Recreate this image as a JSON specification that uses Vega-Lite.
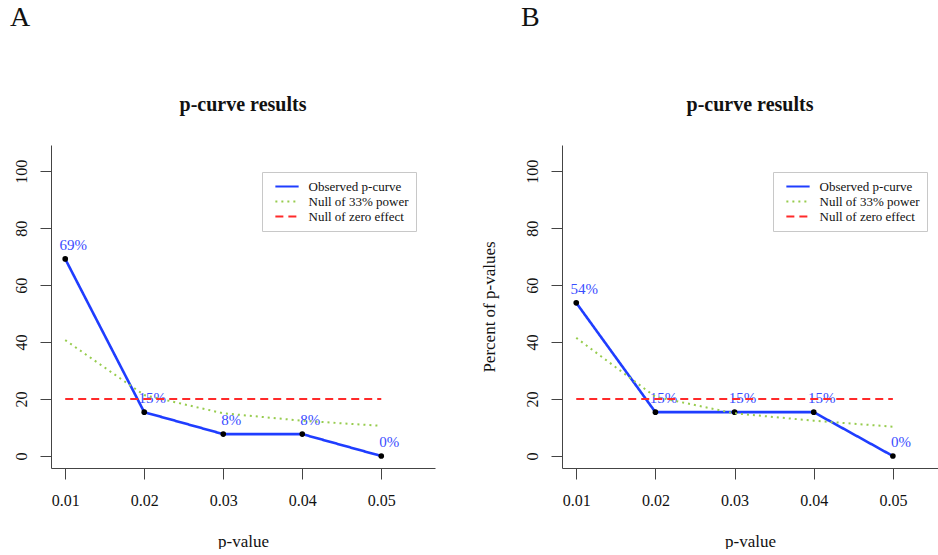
{
  "$schema": "https://vega.github.io/schema/vega-lite/v6.json",
  "padding": {"left": 10, "top": 4, "right": 0, "bottom": 0},
  "background": "white",
  "config": {
    "view": {"stroke": null},
    "font": "Liberation Serif",
    "axis": {
      "labelFont": "Liberation Serif", "titleFont": "Liberation Serif",
      "labelFontSize": 16, "titleFontSize": 17, "titleFontWeight": "normal",
      "labelColor": "#111", "titleColor": "#111",
      "domainColor": "#444", "tickColor": "#444", "domainWidth": 1, "tickWidth": 1,
      "grid": false, "tickSize": 11
    },
    "axisX": {"labelAngle": 0, "labelPadding": 13, "titlePadding": 25},
    "axisY": {"labelAngle": 270, "labelAlign": "center", "labelBaseline": "alphabetic", "labelPadding": 14, "titlePadding": 26},
    "legend": {
      "labelFont": "Liberation Serif", "labelFontSize": 13, "labelColor": "#111",
      "strokeColor": "#c8c8c8", "fillColor": "white", "padding": 7,
      "symbolType": "M-1.9,0H1.9", "symbolSize": 150, "symbolStrokeWidth": 2,
      "symbolOffset": 10.5, "labelOffset": 14, "rowPadding": 0
    },
    "title": {"font": "Liberation Serif", "fontSize": 20, "fontWeight": "bold", "color": "#111", "anchor": "middle", "frame": "group", "offset": 30, "baseline": "alphabetic"}
  },
  "datasets": {
    "pc": [
      {"panel": "A", "p": 0.01, "series": "Observed p-curve", "value": 69.2, "label": "69%"},
      {"panel": "A", "p": 0.02, "series": "Observed p-curve", "value": 15.4, "label": "15%"},
      {"panel": "A", "p": 0.03, "series": "Observed p-curve", "value": 7.7, "label": "8%"},
      {"panel": "A", "p": 0.04, "series": "Observed p-curve", "value": 7.7, "label": "8%"},
      {"panel": "A", "p": 0.05, "series": "Observed p-curve", "value": 0, "label": "0%"},
      {"panel": "A", "p": 0.01, "series": "Null of 33% power", "value": 40.7},
      {"panel": "A", "p": 0.02, "series": "Null of 33% power", "value": 21.4},
      {"panel": "A", "p": 0.03, "series": "Null of 33% power", "value": 15.0},
      {"panel": "A", "p": 0.04, "series": "Null of 33% power", "value": 12.4},
      {"panel": "A", "p": 0.05, "series": "Null of 33% power", "value": 10.6},
      {"panel": "A", "p": 0.01, "series": "Null of zero effect", "value": 20},
      {"panel": "A", "p": 0.02, "series": "Null of zero effect", "value": 20},
      {"panel": "A", "p": 0.03, "series": "Null of zero effect", "value": 20},
      {"panel": "A", "p": 0.04, "series": "Null of zero effect", "value": 20},
      {"panel": "A", "p": 0.05, "series": "Null of zero effect", "value": 20},
      {"panel": "B", "p": 0.01, "series": "Observed p-curve", "value": 53.8, "label": "54%"},
      {"panel": "B", "p": 0.02, "series": "Observed p-curve", "value": 15.4, "label": "15%"},
      {"panel": "B", "p": 0.03, "series": "Observed p-curve", "value": 15.4, "label": "15%"},
      {"panel": "B", "p": 0.04, "series": "Observed p-curve", "value": 15.4, "label": "15%"},
      {"panel": "B", "p": 0.05, "series": "Observed p-curve", "value": 0, "label": "0%"},
      {"panel": "B", "p": 0.01, "series": "Null of 33% power", "value": 41.5},
      {"panel": "B", "p": 0.02, "series": "Null of 33% power", "value": 20.8},
      {"panel": "B", "p": 0.03, "series": "Null of 33% power", "value": 15.0},
      {"panel": "B", "p": 0.04, "series": "Null of 33% power", "value": 12.4},
      {"panel": "B", "p": 0.05, "series": "Null of 33% power", "value": 10.3},
      {"panel": "B", "p": 0.01, "series": "Null of zero effect", "value": 20},
      {"panel": "B", "p": 0.02, "series": "Null of zero effect", "value": 20},
      {"panel": "B", "p": 0.03, "series": "Null of zero effect", "value": 20},
      {"panel": "B", "p": 0.04, "series": "Null of zero effect", "value": 20},
      {"panel": "B", "p": 0.05, "series": "Null of zero effect", "value": 20}
    ]
  },
  "data": {"name": "pc"},
  "bounds": "flush",
  "spacing": 511,
  "resolve": {
    "scale": {"x": "independent", "y": "independent", "color": "independent", "strokeDash": "independent"},
    "legend": {"color": "independent", "strokeDash": "independent"}
  },
  "hconcat": [
    {
      "title": {"text": "A", "anchor": "start", "frame": "group", "dx": -41, "offset": 41, "fontSize": 28, "fontWeight": "normal", "baseline": "alphabetic"},
      "bounds": "flush",
      "resolve": {
        "scale": {"color": "independent", "strokeDash": "independent"},
        "legend": {"color": "independent", "strokeDash": "independent"}
      },
      "vconcat": [
        {
          "title": {"text": "p-curve results"},
          "width": 384,
          "height": 323,
          "transform": [{"filter": "datum.panel === 'A'"}],
          "encoding": {
            "x": {"field": "p", "type": "quantitative", "scale": {"domain": [0.0082, 0.0568], "nice": false, "zero": false}, "axis": {"values": [0.01, 0.02, 0.03, 0.04, 0.05], "format": ".2f", "title": "p-value"}},
            "y": {"field": "value", "type": "quantitative", "scale": {"domain": [-4.2, 109.2], "nice": false, "zero": false}, "axis": {"values": [0, 20, 40, 60, 80, 100], "title": null}}
          },
          "layer": [
            {
              "transform": [{"filter": "datum.series === 'Observed p-curve'"}],
              "mark": {"type": "line", "strokeWidth": 2.6},
              "encoding": {
                "color": {"field": "series", "type": "nominal", "scale": {"domain": ["Observed p-curve", "Null of 33% power", "Null of zero effect"], "range": ["#1f3dff", "#97cc4e", "#ff2a2a"]}, "legend": {"title": null, "orient": "none", "legendX": 211, "legendY": 27}},
                "strokeDash": {"field": "series", "type": "nominal", "scale": {"domain": ["Observed p-curve", "Null of 33% power", "Null of zero effect"], "range": [[1, 0], [2, 4], [8, 5]]}, "legend": {"title": null, "orient": "none", "legendX": 211, "legendY": 27}}
              }
            },
            {
              "transform": [{"filter": "datum.series === 'Observed p-curve'"}],
              "mark": {"type": "point", "filled": true, "color": "black", "size": 32, "opacity": 1}
            },
            {
              "transform": [{"filter": "datum.series === 'Observed p-curve'"}],
              "mark": {"type": "text", "dx": 8, "dy": -14, "color": "#3a4dff", "fontSize": 15, "font": "Liberation Serif"},
              "encoding": {"text": {"field": "label"}}
            },
            {
              "transform": [{"filter": "datum.series !== 'Observed p-curve'"}],
              "mark": {"type": "line", "strokeWidth": 2},
              "encoding": {
                "color": {"field": "series", "type": "nominal"},
                "strokeDash": {"field": "series", "type": "nominal"}
              }
            }
          ]
        }
      ]
    },
    {
      "title": {"text": "B", "anchor": "start", "frame": "group", "dx": -41, "offset": 41, "fontSize": 28, "fontWeight": "normal", "baseline": "alphabetic"},
      "bounds": "flush",
      "resolve": {
        "scale": {"color": "independent", "strokeDash": "independent"},
        "legend": {"color": "independent", "strokeDash": "independent"}
      },
      "vconcat": [
        {
          "title": {"text": "p-curve results"},
          "width": 376,
          "height": 323,
          "transform": [{"filter": "datum.panel === 'B'"}],
          "encoding": {
            "x": {"field": "p", "type": "quantitative", "scale": {"domain": [0.0082, 0.0557], "nice": false, "zero": false}, "axis": {"values": [0.01, 0.02, 0.03, 0.04, 0.05], "format": ".2f", "title": "p-value"}},
            "y": {"field": "value", "type": "quantitative", "scale": {"domain": [-4.2, 109.2], "nice": false, "zero": false}, "axis": {"values": [0, 20, 40, 60, 80, 100], "title": "Percent of p-values"}}
          },
          "layer": [
            {
              "transform": [{"filter": "datum.series === 'Observed p-curve'"}],
              "mark": {"type": "line", "strokeWidth": 2.6},
              "encoding": {
                "color": {"field": "series", "type": "nominal", "scale": {"domain": ["Observed p-curve", "Null of 33% power", "Null of zero effect"], "range": ["#1f3dff", "#97cc4e", "#ff2a2a"]}, "legend": {"title": null, "orient": "none", "legendX": 211, "legendY": 27}},
                "strokeDash": {"field": "series", "type": "nominal", "scale": {"domain": ["Observed p-curve", "Null of 33% power", "Null of zero effect"], "range": [[1, 0], [2, 4], [8, 5]]}, "legend": {"title": null, "orient": "none", "legendX": 211, "legendY": 27}}
              }
            },
            {
              "transform": [{"filter": "datum.series === 'Observed p-curve'"}],
              "mark": {"type": "point", "filled": true, "color": "black", "size": 32, "opacity": 1}
            },
            {
              "transform": [{"filter": "datum.series === 'Observed p-curve'"}],
              "mark": {"type": "text", "dx": 8, "dy": -14, "color": "#3a4dff", "fontSize": 15, "font": "Liberation Serif"},
              "encoding": {"text": {"field": "label"}}
            },
            {
              "transform": [{"filter": "datum.series !== 'Observed p-curve'"}],
              "mark": {"type": "line", "strokeWidth": 2},
              "encoding": {
                "color": {"field": "series", "type": "nominal"},
                "strokeDash": {"field": "series", "type": "nominal"}
              }
            }
          ]
        }
      ]
    }
  ]
}
